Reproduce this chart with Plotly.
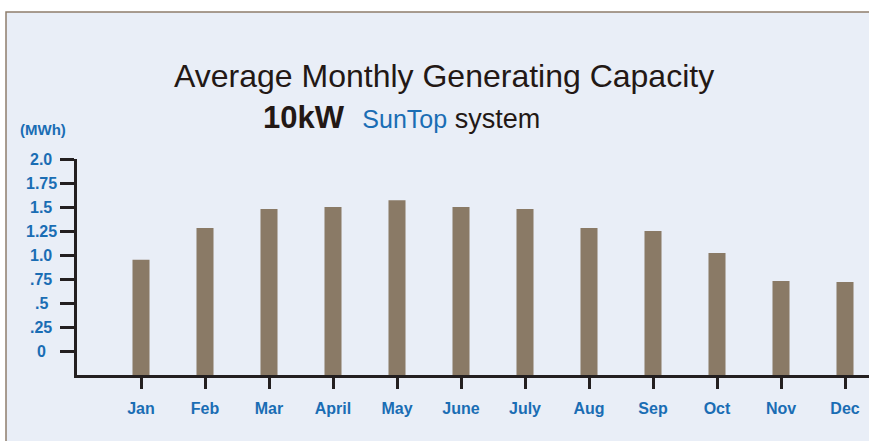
import plotly.graph_objects as go

months = ["Jan", "Feb", "Mar", "April", "May", "June", "July", "Aug", "Sep", "Oct", "Nov", "Dec"]
generation_mwh = [0.95, 1.28, 1.48, 1.50, 1.57, 1.50, 1.48, 1.28, 1.25, 1.02, 0.73, 0.72]
y_tick_values = [0, 0.25, 0.5, 0.75, 1.0, 1.25, 1.5, 1.75, 2.0]
y_tick_labels = ["0", ".25", ".5", ".75", "1.0", "1.25", "1.5", "1.75", "2.0"]

BASELINE = -0.25  # bars start one tick below the "0" label, as in the original
W, H = 869, 441
ML, MR, MT, MB = 77, 0, 159, 66
PW, PH = W - ML - MR, H - MT - MB

BLUE = "#1a6db4"
DARK = "#231f20"
TITLE_C = "#231815"
BAR_C = "#8a7a66"
BG = "#e9eef7"
FONT = "Liberation Sans, Arial, sans-serif"


def px_x(p):
    return (p - ML) / PW


def px_y(p):
    return (H - MB - p) / PH


fig = go.Figure()
fig.add_trace(go.Bar(
    x=months,
    y=[v - BASELINE for v in generation_mwh],
    base=BASELINE,
    marker=dict(color=BAR_C, line=dict(width=0)),
    width=0.266,
    customdata=generation_mwh,
    hovertemplate="%{x}: %{customdata} MWh<extra></extra>",
))

annotations = []
for v, lab in zip(y_tick_values, y_tick_labels):
    annotations.append(dict(
        x=px_x(41), xref="paper", y=v, yref="y", text=lab, showarrow=False,
        xanchor="center", yanchor="middle",
        font=dict(family=FONT, size=16, color=BLUE, weight="bold"),
    ))

annotations.append(dict(
    x=px_x(444), xref="paper", y=px_y(76), yref="paper",
    text="Average Monthly Generating Capacity", showarrow=False,
    xanchor="center", yanchor="middle",
    font=dict(family=FONT, size=32, color=TITLE_C),
))
annotations.append(dict(
    x=px_x(261), xref="paper", y=px_y(117), yref="paper",
    text=("<b><span style='font-size:31px'>10kW</span></b>"
          "<span style='font-size:22px'>   </span>"
          "<span style='color:" + BLUE + ";font-size:25px'>SunTop</span>"
          "<span style='font-size:27px'> system</span>"),
    showarrow=False, xanchor="left", yanchor="middle",
    font=dict(family=FONT, size=25, color=TITLE_C),
))
annotations.append(dict(
    x=px_x(43), xref="paper", y=px_y(129), yref="paper",
    text="(MWh)", showarrow=False, xanchor="center", yanchor="middle",
    font=dict(family=FONT, size=15, color=BLUE, weight="bold"),
))

fig.update_layout(
    width=W, height=H,
    margin=dict(l=ML, r=MR, t=MT, b=MB, pad=0),
    paper_bgcolor="white",
    plot_bgcolor="rgba(0,0,0,0)",
    showlegend=False,
    bargap=0.73,
    annotations=annotations,
    shapes=[dict(
        type="rect", xref="paper", yref="paper",
        x0=px_x(6), x1=1.05, y0=px_y(470), y1=px_y(12),
        fillcolor=BG, line=dict(color="#8e7e6c", width=1.5), layer="below",
    )],
    xaxis=dict(
        type="category", range=[-1, 11.375], showgrid=False, zeroline=False,
        showline=True, linecolor=DARK, linewidth=3,
        ticks="outside", ticklen=11, tickwidth=3, tickcolor=DARK,
        ticklabelstandoff=6,
        tickfont=dict(family=FONT, size=16, color=BLUE, weight="bold"),
    ),
    yaxis=dict(
        range=[BASELINE, 2.0], showgrid=False, zeroline=False,
        showline=True, linecolor=DARK, linewidth=3,
        tickmode="array", tickvals=y_tick_values, ticktext=y_tick_labels,
        showticklabels=False,
        ticks="outside", ticklen=14, tickwidth=3, tickcolor=DARK,
    ),
)

fig.write_html(
    "out.html",
    config={"displayModeBar": False},
    post_script="document.body.style.margin='0';document.body.style.overflow='hidden';",
)
